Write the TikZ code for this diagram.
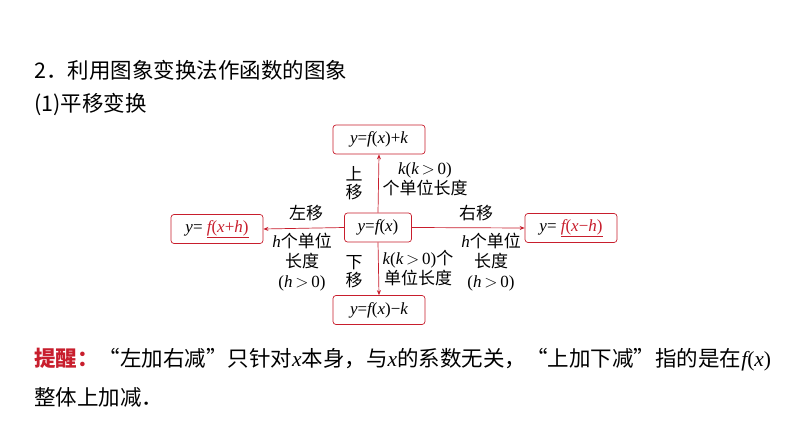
\documentclass[tikz,border=0pt]{standalone}
\usepackage{fontspec}
\setmainfont{Liberation Serif}
\newfontfamily\cjk{Noto Sans CJK SC}
\newcommand{\mi}[1]{{\rmfamily\itshape #1}}
\newcommand{\mr}[1]{{\rmfamily #1}}
\usetikzlibrary{arrows.meta}
\definecolor{rd}{RGB}{200,30,45}
\begin{document}
\begin{tikzpicture}[x=1pt,y=-1pt,
  box/.style={draw=rd,rounded corners=3pt,line width=0.7pt,minimum width=92pt,minimum height=29pt,font=\fontsize{17}{19}\selectfont,inner sep=0pt},
  arr/.style={draw=rd,line width=0.7pt,-{Stealth[length=5pt,width=4pt]}},
  lab/.style={font=\fontsize{17}{20}\selectfont\cjk,inner sep=0pt,align=center},
  txt/.style={font=\fontsize{21.5}{23}\selectfont\cjk,inner sep=0pt,anchor=west}]
\useasboundingbox (0,0) rectangle (794,446);
\fill[white] (0,0) rectangle (794,446);
\node[txt] (t1) at (34,70) {2．利用图象变换法作函数的图象};
\node[txt] (t2) at (34,104) {(1)平移变换};
\node[box,minimum width=67pt] (c) at (378,227.5) {\mi{y}=\mi{f}(\mi{x})};
\node[box] (u) at (379,139.5) {\mi{y}=\mi{f}(\mi{x})+\mi{k}};
\node[box] (d) at (379,310) {\mi{y}=\mi{f}(\mi{x})−\mi{k}};
\node[box] (l) at (217,229) {\mi{y}= \textcolor{rd}{\underline{\mi{f}(\mi{x}+\mi{h})}}};
\node[box] (r) at (571,228) {\mi{y}= \textcolor{rd}{\underline{\mi{f}(\mi{x}−\mi{h})}}};
\draw[arr] (c.north) -- (u.south);
\draw[arr] (c.south) -- (d.north);
\draw[arr] (c.west) -- (l.east);
\draw[arr] (c.east) -- (r.west);
\node[lab] (a1) at (354,183) {上\\[-2pt]移};
\node[lab] (a2) at (425,179) {\mi{k}\mr{(}\mi{k}\,\mr{$>$}\,\mr{0)}\\个单位长度};
\node[lab] (a3) at (306,213) {左移};
\node[lab] (a4) at (302,262) {\mi{h}个单位\\长度\\\mr{(}\mi{h}\,\mr{$>$}\,\mr{0)}};
\node[lab] (a5) at (354,272) {下\\[-2pt]移};
\node[lab] (a6) at (418,268) {\mi{k}\mr{(}\mi{k}\,\mr{$>$}\,\mr{0)}个\\单位长度};
\node[lab] (a7) at (476,213) {右移};
\node[lab] (a8) at (491,262) {\mi{h}个单位\\长度\\\mr{(}\mi{h}\,\mr{$>$}\,\mr{0)}};
\node[txt] (n1) at (34,360) {\textcolor{rd}{\textbf{提醒：}}“左加右减”只针对\mi{x}本身，与\mi{x}的系数无关，“上加下减”指的是在\mi{f}\mr{(}\mi{x}\mr{)}};
\node[txt] (n2) at (34,397) {整体上加减．};
\end{tikzpicture}
\end{document}
